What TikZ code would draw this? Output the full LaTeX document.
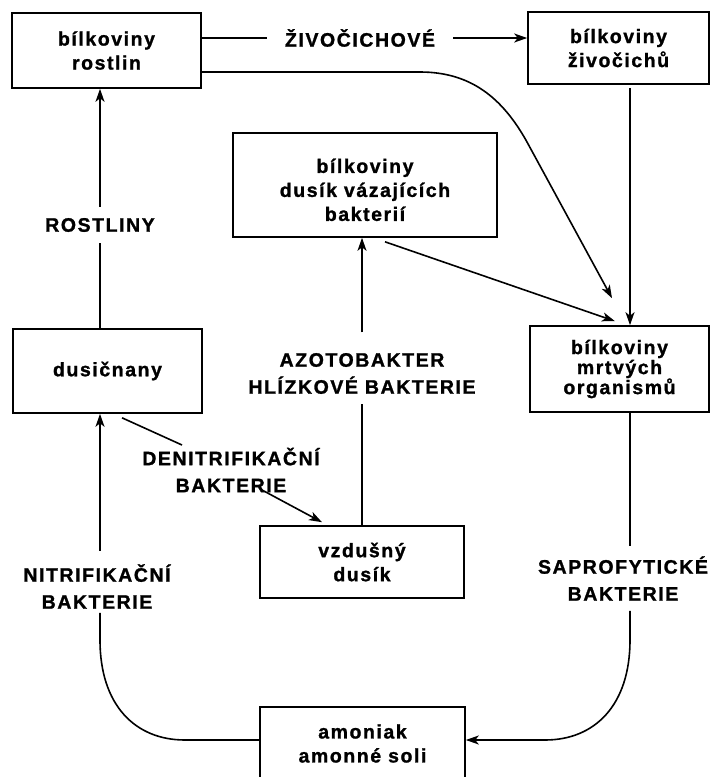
\documentclass[tikz,border=0pt]{standalone}
\usepackage{fontspec}
\newfontfamily\dfont{Liberation Sans}[LetterSpace=8, BoldFeatures={FakeBold=1.2}]
\usetikzlibrary{arrows.meta}
\begin{document}
\begin{tikzpicture}[x=1pt,y=-1pt,
  box/.style={draw, line width=1.6pt, align=center, inner sep=0pt,
    font=\dfont\bfseries\fontsize{19.5}{24}\selectfont},
  lab/.style={align=center, inner xsep=0pt, inner ysep=10pt,
    font=\dfont\bfseries\fontsize{19.5}{27}\selectfont},
  ln/.style={line width=1.6pt},
  arr/.style={ln, -{Stealth[length=13pt,width=9pt,inset=3.5pt]}}]
\useasboundingbox (0,0) rectangle (710,777);
\clip (0,0) rectangle (710,777);

% boxes
\node[box, minimum width=189pt, minimum height=75pt] (rost) at (106.5,50.5) {bílkoviny\\rostlin};
\node[box, minimum width=181pt, minimum height=72pt] (ziv) at (618.5,48) {bílkoviny\\živočichů};
\node[box, minimum width=264pt, minimum height=104pt] (bakt) at (365,185) {\rule{0pt}{24pt}bílkoviny\\dusík vázajících\\bakterií};
\node[box, minimum width=189pt, minimum height=84pt] (dus) at (107.5,371) {dusičnany};
\node[box, minimum width=179pt, minimum height=86pt,
  font=\dfont\bfseries\fontsize{19.5}{20}\selectfont] (mrtv) at (619.5,369) {bílkoviny\\mrtvých\\organismů};
\node[box, minimum width=204pt, minimum height=72pt] (vzd) at (362,562) {vzdušný\\dusík};
\node[box, minimum width=205pt, minimum height=73pt] (amon) at (362.5,743.5) {amoniak\\amonné soli};

% labels
\node[lab, inner xsep=18pt] (zl) at (360,38) {ŽIVOČICHOVÉ};
\node[lab, inner ysep=11pt] (rl) at (100,225) {ROSTLINY};
\node[lab] (al) at (362,373.5) {AZOTOBAKTER\\HLÍZKOVÉ BAKTERIE};
\node[lab] (dl) at (231,470) {DENITRIFIKAČNÍ\\BAKTERIE};
\node[lab, inner ysep=4pt] (nl) at (97,586.5) {NITRIFIKAČNÍ\\BAKTERIE};
\node[lab] (sl) at (623,578.5) {SAPROFYTICKÉ\\BAKTERIE};

% free ends above the dead-organism box
\coordinate (c1) at ([shift={(-7.5,-27)}]mrtv.north);
\coordinate (c2) at ([shift={(-4.5,-4)}]mrtv.north);

% connectors
\draw[ln] (rost.east |- zl.west) -- (zl.west);
\draw[arr] (zl.east) -- (ziv.west |- zl.east);
\draw[arr] ([yshift=-21.5pt]rost.east) -- (420,72) .. controls (470,72) and (502,97) .. (527,142) -- (c1);
\draw[arr] ([shift={(20,4)}]bakt.south) -- (c2);
\draw[arr] ([shift={(11.5,3)}]ziv.south) -- ([xshift=10.5pt]mrtv.north);

\draw[ln] ([xshift=-7.5pt]dus.north) -- (rl.south);
\draw[arr] (rl.north) -- ([xshift=-6.5pt]rost.south);

\draw[arr] ([yshift=10.5pt]al.north) -- ([xshift=-3pt]bakt.south);
\draw[ln] (vzd.north) -- (al.south);

\draw[ln] ([shift={(14.5,4)}]dus.south) -- ([shift={(-49,-25)}]dl.center);
\draw[arr] ([shift={(31,20)}]dl.center) -- ([shift={(-40,-3)}]vzd.north);

\draw[arr] ([shift={(3,-9.5)}]nl.north) -- ([xshift=-7.5pt]dus.south);
\draw[ln] ([xshift=3pt]nl.south) -- (100,640) .. controls (100,705) and (135,740) .. (185,740) -- ([yshift=3.5pt]amon.west);

\draw[ln] ([xshift=10.5pt]mrtv.south) -- ([xshift=7pt]sl.north);
\draw[arr] ([xshift=7pt]sl.south) -- (630,640) .. controls (630,705) and (595,740) .. (545,740) -- ([yshift=3.5pt]amon.east);
\end{tikzpicture}
\end{document}
